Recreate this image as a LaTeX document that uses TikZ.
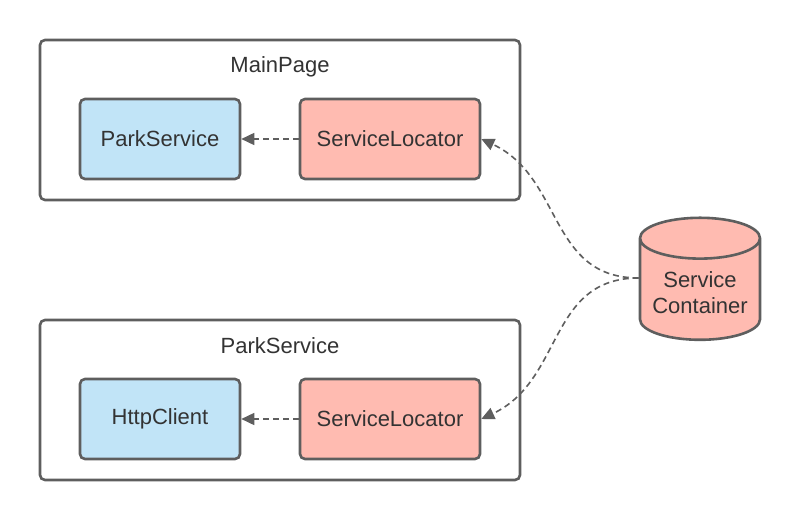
\documentclass[tikz,border=0pt]{standalone}
\usepackage{fontspec}
\setmainfont{Liberation Sans}
\usetikzlibrary{arrows.meta,shapes.geometric}
\definecolor{edgegray}{HTML}{5E5E5E}
\definecolor{textgray}{HTML}{333333}
\definecolor{bluefill}{HTML}{C1E4F7}
\definecolor{redfill}{HTML}{FFBBB1}
\tikzset{
  frame/.style={draw=edgegray, line width=2.6pt, rounded corners=5pt, fill=white,
    minimum width=480pt, minimum height=160pt},
  classbox/.style={draw=edgegray, line width=2.6pt, rounded corners=5pt,
    minimum height=80pt, text=textgray},
  dep/.style={draw=edgegray, line width=1.6pt, dash pattern=on 6pt off 4pt,
    -{Triangle[length=13pt,width=12pt]}},
}
\begin{document}
\begin{tikzpicture}[x=1pt,y=1pt,font=\fontsize{22}{26}\selectfont]
  \useasboundingbox[fill=white] (0,0) rectangle (800,520);
  \draw
    (280,400) node[frame] (main){}
    (280,120) node[frame] (park){};
  \draw
    (280,453) node[text=textgray] (mainlbl){MainPage}
    (280,174) node[text=textgray] (parklbl){ParkService}
    (160,381) node[classbox, fill=bluefill, minimum width=160pt] (parksvc){ParkService}
    (390,381) node[classbox, fill=redfill, minimum width=180pt] (loc1){ServiceLocator}
    (160,101) node[classbox, fill=bluefill, minimum width=160pt] (http){HttpClient}
    (390,101) node[classbox, fill=redfill, minimum width=180pt] (loc2){ServiceLocator};
  \node[cylinder, shape border rotate=90, draw=edgegray, line width=2.6pt, fill=redfill,
    aspect=0.4, minimum width=120pt, minimum height=122pt, align=center,
    text=textgray, font=\fontsize{22}{26}\selectfont] (cont) at (700,227) {Service\\Container};
  \begin{scope}
    \draw[dep] ([yshift=15pt]cont.west) to[out=180,in=-25,looseness=1.1] (loc1.east);
    \draw[dep] ([yshift=15pt]cont.west) to[out=180,in=25,looseness=1.1] (loc2.east);
    \draw[dep] (loc1) to (parksvc);
    \draw[dep] (loc2) to (http);
  \end{scope}
\end{tikzpicture}
\end{document}
